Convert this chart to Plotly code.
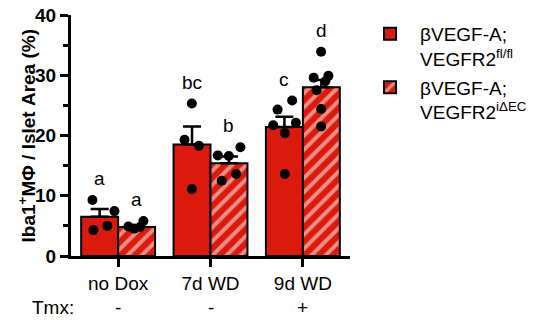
import plotly.graph_objects as go

categories = ["no Dox", "7d WD", "9d WD"]
tmx_labels = ["-", "-", "+"]
series_names = ["βVEGF-A;<br>VEGFR2<sup>fl/fl</sup>", "βVEGF-A;<br>VEGFR2<sup>iΔEC</sup>"]
y_title = "Iba1<sup>+</sup>MΦ\u00a0/\u00a0Islet\u00a0Area\u00a0(%)"

mean_fl = [6.5, 18.5, 21.4]
sem_fl = [1.3, 3.0, 1.7]
mean_dec = [4.8, 15.4, 28.0]
sem_dec = [0.3, 1.1, 1.2]

# individual points (values) and horizontal jitter (in category units)
pts_fl = [
    [9.3, 7.45, 4.3, 5.0],
    [25.3, 19.3, 18.3, 11.1],
    [24.3, 25.8, 21.7, 22.1, 20.4, 13.6],
]
jit_fl = [
    [-0.078, 0.160, -0.067, 0.084],
    [-0.002, -0.081, 0.074, -0.002],
    [-0.074, 0.084, -0.121, 0.124, 0.005, 0.005],
]
pts_dec = [
    [4.9, 4.55, 4.8, 5.8],
    [16.7, 16.6, 18.05, 12.5, 13.6],
    [33.9, 29.6, 29.9, 29.0, 27.5, 24.4, 21.5],
]
jit_dec = [
    [-0.089, -0.027, 0.038, 0.074],
    [-0.121, -0.002, 0.124, -0.078, 0.078],
    [-0.003, -0.083, 0.076, 0.043, -0.051, -0.003, -0.003],
]
letters_fl = ["a", "bc", "c"]
letters_dec = ["a", "b", "d"]

RED = "#DA1A0C"
FONT = "Liberation Sans"
BW = 0.4
OFF = 0.2

fig = go.Figure()

idx = list(range(len(categories)))
x_fl = [i - OFF for i in idx]
x_dec = [i + OFF for i in idx]

fig.add_trace(go.Bar(
    x=x_fl, y=mean_fl, width=BW, name=series_names[0], legendgroup="g1",
    marker=dict(color=RED, line=dict(color="black", width=2)),
    error_y=dict(type="data", symmetric=False, array=sem_fl, arrayminus=[0] * 3,
                 color="black", thickness=2.5, width=9),
))
fig.add_trace(go.Bar(
    x=x_dec, y=mean_dec, width=BW, name=series_names[1], legendgroup="g2",
    marker=dict(color=RED, line=dict(color="black", width=2),
                pattern=dict(shape="/", fgcolor="white", bgcolor=RED, size=10, solidity=0.4)),
    error_y=dict(type="data", symmetric=False, array=sem_dec, arrayminus=[0] * 3,
                 color="black", thickness=2.5, width=9),
))

for xs, pts, jit in [(x_fl, pts_fl, jit_fl), (x_dec, pts_dec, jit_dec)]:
    px, py = [], []
    for xc, vals, js in zip(xs, pts, jit):
        for v, j in zip(vals, js):
            px.append(xc + j)
            py.append(v)
    fig.add_trace(go.Scatter(x=px, y=py, mode="markers", showlegend=False,
                             marker=dict(color="black", size=10), cliponaxis=False))

annos = []
for xs, pts, lets in [(x_fl, pts_fl, letters_fl), (x_dec, pts_dec, letters_dec)]:
    for xc, vals, t in zip(xs, pts, lets):
        annos.append(dict(x=xc, y=max(vals) + 1.5, xref="x", yref="y", text=t,
                          showarrow=False, yanchor="bottom",
                          font=dict(family=FONT, size=19, color="black")))
annos.append(dict(x=-0.065, y=-0.212, xref="paper", yref="paper", text="Tmx:", showarrow=False,
                  xanchor="center", yanchor="middle", font=dict(family=FONT, size=19, color="black")))
for i, t in zip(idx, tmx_labels):
    annos.append(dict(x=i, y=-0.212, xref="x", yref="paper", text=t, showarrow=False,
                      xanchor="center", yanchor="middle", font=dict(family=FONT, size=19, color="black")))
annos.append(dict(x=-0.158, y=0.5, xref="paper", yref="paper", text=y_title, textangle=-90,
                  showarrow=False, xanchor="center", yanchor="middle",
                  font=dict(family=FONT, size=19, color="black", weight="bold")))

fig.update_layout(
    width=543, height=320,
    margin=dict(l=71, r=193, t=15, b=64, autoexpand=False),
    paper_bgcolor="white", plot_bgcolor="white",
    font=dict(family=FONT, size=19, color="black"),
    barmode="overlay",
    annotations=annos,
    legend=dict(x=1.036, y=1.0, xanchor="left", yanchor="top",
                font=dict(family=FONT, size=19, color="black"),
                valign="top", traceorder="grouped", tracegroupgap=1, itemwidth=50,
                bgcolor="rgba(0,0,0,0)"),
    xaxis=dict(range=[-0.51, 2.51], tickvals=idx, ticktext=categories, automargin=False,
               showgrid=False, zeroline=False, showline=True, linecolor="black", linewidth=3,
               ticks="outside", ticklen=8, tickwidth=3, tickcolor="black",
               tickfont=dict(family=FONT, size=19, color="black")),
    yaxis=dict(range=[0, 40], tickvals=[0, 10, 20, 30, 40], automargin=False,
               showgrid=False, zeroline=False, showline=True, linecolor="black", linewidth=3,
               ticks="outside", ticklen=8, tickwidth=3, tickcolor="black",
               minor=dict(dtick=5, ticks="outside", ticklen=5, tickwidth=3, tickcolor="black", showgrid=False),
               tickfont=dict(family=FONT, size=19, color="black", weight="bold")),
)

fig.write_html("out.html", config={"displayModeBar": False},
               post_script="document.body.style.margin='0';")
